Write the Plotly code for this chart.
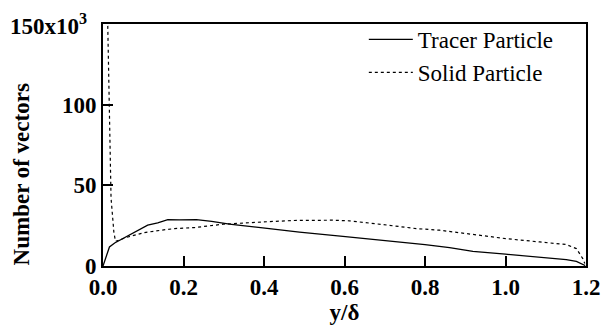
import plotly.graph_objects as go

# ---- data ----
tracer_x = [0, 0.004, 0.008, 0.016, 0.029, 0.045, 0.062, 0.086, 0.111, 0.136, 0.161, 0.19, 0.232,
            0.27, 0.314, 0.397, 0.488, 0.596, 0.695, 0.8, 0.861, 0.919, 1.0, 1.085, 1.151, 1.176,
            1.192, 1.198]
tracer_y = [0, 3.0, 5.6, 11.8, 14.3, 16.5, 18.6, 22.2, 25.3, 26.7, 28.8, 28.6, 28.8,
            27.6, 25.9, 23.6, 21.0, 18.4, 16.0, 13.3, 11.4, 9.1, 7.3, 5.2, 4.0, 2.8,
            1.0, 0.3]

solid_x = [0.011, 0.020, 0.027, 0.031, 0.062, 0.103, 0.145, 0.178, 0.227, 0.298, 0.397, 0.472,
           0.571, 0.612, 0.695, 0.778, 0.836, 0.919, 1.0, 1.085, 1.151, 1.176, 1.192, 1.197]
solid_y = [160, 42, 21, 15.3, 18.0, 20.7, 22.2, 23.2, 23.8, 25.9, 27.3, 28.2,
           28.4, 28.0, 25.7, 23.2, 22.2, 19.5, 17.0, 14.9, 13.3, 10.8, 4.6, 1.5]

x_ticks = [0, 0.2, 0.4, 0.6, 0.8, 1.0, 1.2]
x_ticklabels = ["0.0", "0.2", "0.4", "0.6", "0.8", "1.0", "1.2"]
y_ticks = [0, 50, 100]
y_ticklabels = ["0", "50", "100"]
y_top_label = "150x10<sup>3</sup>"

FONT = "Liberation Serif"
FS = 23

fig = go.Figure()
fig.add_trace(go.Scatter(x=tracer_x, y=tracer_y, mode="lines", name="Tracer Particle",
                         line=dict(color="black", width=1.3)))
fig.add_trace(go.Scatter(x=solid_x, y=solid_y, mode="lines", name="Solid Particle",
                         line=dict(color="black", width=1.2, dash="3px,3px")))

axis_common = dict(showline=True, linecolor="black", linewidth=1.6, mirror=True,
                   ticks="inside", ticklen=10, tickwidth=1.5, tickcolor="black",
                   showgrid=False, zeroline=False,
                   tickfont=dict(family=FONT, size=FS, color="black", weight="bold"))

fig.update_layout(
    width=613, height=332,
    margin=dict(l=103, r=27, t=24, b=66),
    paper_bgcolor="white", plot_bgcolor="white",
    font=dict(family=FONT, color="black"),
    showlegend=True,
    legend=dict(x=0.54, y=1.025, xanchor="left", yanchor="top",
                bgcolor="rgba(0,0,0,0)", borderwidth=0,
                font=dict(family=FONT, size=FS, color="black"),
                itemwidth=44, tracegroupgap=0),
    xaxis=dict(range=[0, 1.2], tickvals=x_ticks, ticktext=x_ticklabels,
               title=dict(text="y/δ", font=dict(family=FONT, size=FS, color="black", weight="bold"),
                          standoff=1),
               **axis_common),
    yaxis=dict(range=[0, 150], tickvals=y_ticks, ticktext=y_ticklabels, **axis_common),
)

fig.add_annotation(text="<b>Number of vectors</b>", xref="paper", yref="paper",
                   x=-0.169, y=0.38, textangle=-90, showarrow=False,
                   font=dict(family=FONT, size=FS, color="black"),
                   xanchor="center", yanchor="middle")
fig.add_annotation(text="<b>" + y_top_label + "</b>", xref="paper", yref="y",
                   x=-0.03, y=150, showarrow=False, xanchor="right", yanchor="middle",
                   font=dict(family=FONT, size=FS, color="black"))

fig.write_html("out.html")
